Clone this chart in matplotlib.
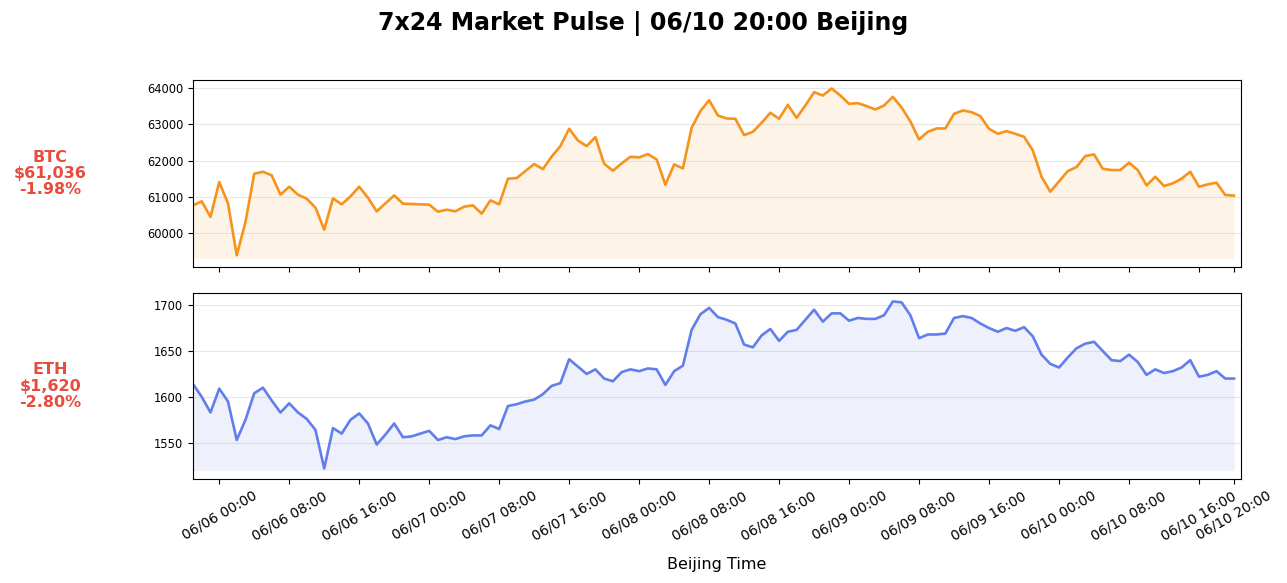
import matplotlib
matplotlib.use("Agg")
import matplotlib.pyplot as plt
import matplotlib.dates as mdates
import pandas as pd

start_time = "2024-06-05 21:00"
n_points = 120

btc_prices = [
    60769, 60879, 60449, 61410, 60824, 59396, 60311, 61638, 61693, 61593,
    61062, 61281, 61062, 60952, 60705, 60101, 60961, 60796, 61016, 61281,
    60979, 60604, 60824, 61043, 60815, 60806, 60796, 60787, 60595, 60650,
    60604, 60732, 60769, 60540, 60906, 60796, 61501, 61519, 61712, 61904,
    61765, 62110, 62398, 62874, 62554, 62398, 62645, 61913, 61721, 61922,
    62105, 62087, 62178, 62032, 61336, 61895, 61785, 62902, 63359, 63661,
    63240, 63158, 63149, 62700, 62792, 63039, 63314, 63149, 63533, 63176,
    63515, 63881, 63789, 63982, 63789, 63561, 63579, 63497, 63405, 63515,
    63753, 63460, 63080, 62581, 62792, 62883, 62883, 63286, 63378, 63332,
    63222, 62874, 62737, 62810, 62737, 62654, 62279, 61556, 61144, 61428,
    61712, 61822, 62124, 62170, 61776, 61739, 61739, 61941, 61739, 61318,
    61556, 61300, 61373, 61501, 61693, 61281, 61346, 61391, 61053, 61036,
]

eth_prices = [
    1614, 1600, 1583, 1609, 1595, 1553, 1575, 1604, 1610, 1596,
    1583, 1593, 1583, 1576, 1564, 1522, 1566, 1560, 1575, 1582,
    1571, 1548, 1559, 1571, 1556, 1557, 1560, 1563, 1553, 1556,
    1554, 1557, 1558, 1558, 1569, 1565, 1590, 1592, 1595, 1597,
    1603, 1612, 1615, 1641, 1633, 1625, 1630, 1620, 1617, 1627,
    1630, 1628, 1631, 1630, 1613, 1628, 1634, 1673, 1690, 1697,
    1687, 1684, 1680, 1657, 1654, 1667, 1674, 1661, 1671, 1673,
    1684, 1695, 1682, 1691, 1691, 1683, 1686, 1685, 1685, 1689,
    1704, 1703, 1689, 1664, 1668, 1668, 1669, 1686, 1688, 1686,
    1680, 1675, 1671, 1675, 1672, 1676, 1666, 1646, 1636, 1632,
    1643, 1653, 1658, 1660, 1650, 1640, 1639, 1646, 1638, 1624,
    1630, 1626, 1628, 1632, 1640, 1622, 1624, 1628, 1620, 1620,
]

asset_names = ["BTC", "ETH"]
last_prices = ["$61,036", "$1,620"]
pct_changes = ["-1.98%", "-2.80%"]
line_colors = ["#f7931a", "#627eea"]
btc_yticks = [60000, 61000, 62000, 63000, 64000]
eth_yticks = [1550, 1600, 1650, 1700]

times = pd.date_range(start_time, periods=n_points, freq="h")
tick_times = list(pd.date_range("2024-06-06 00:00", "2024-06-10 16:00", freq="8h")) + [times[-1]]

fig = plt.figure(figsize=(12.87, 5.83), dpi=100)
ax1 = fig.add_axes([193 / 1287, 1 - 267 / 583, 1048 / 1287, 187 / 583])
ax2 = fig.add_axes([193 / 1287, 1 - 479 / 583, 1048 / 1287, 186 / 583], sharex=ax1)

fig.suptitle("7x24 Market Pulse | 06/10 20:00 Beijing", fontsize=17, fontweight="bold",
             y=1 - 24 / 583, va="center")

series = [btc_prices, eth_prices]
yticks = [btc_yticks, eth_yticks]
for ax, vals, name, price, pct, col, yt in zip(
        [ax1, ax2], series, asset_names, last_prices, pct_changes, line_colors, yticks):
    base = min(vals) * 0.9985
    ax.plot(times, vals, color=col, linewidth=1.9)
    ax.fill_between(times, vals, base, color=col, alpha=0.1, linewidth=0)
    ax.set_yticks(yt)
    ax.grid(axis="y", color="#dddddd", alpha=0.7, linewidth=0.8)
    ax.set_axisbelow(True)
    ax.tick_params(axis="y", labelsize=8.3)
    ax.tick_params(axis="x", labelsize=10)
    ax.text(-0.136, 0.5, f"{name}\n{price}\n{pct}", transform=ax.transAxes,
            ha="center", va="center", fontsize=11.5, fontweight="bold",
            color="#e74c3c", linespacing=1.12)

ax1.set_xlim(times[0], times[-1] + pd.Timedelta(minutes=48))
ax2.set_xticks(tick_times)
ax2.xaxis.set_major_formatter(mdates.DateFormatter("%m/%d %H:%M"))
plt.setp(ax1.get_xticklabels(), visible=False)
plt.setp(ax2.get_xticklabels(), rotation=30, ha="center")
ax2.set_xlabel("Beijing Time", fontsize=11.5, labelpad=10)

fig.savefig("out.png", dpi=100)
